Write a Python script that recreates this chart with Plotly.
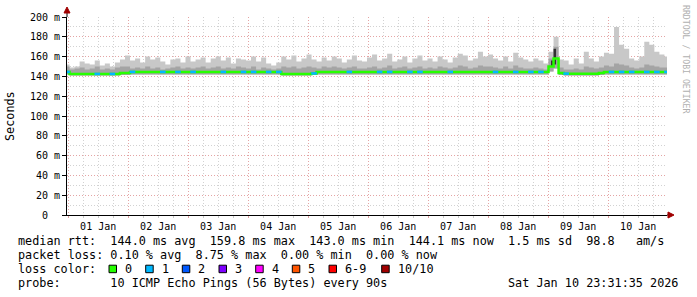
import plotly.graph_objects as go
import pandas as pd

# ---------------- data ----------------
t_start = "2025-12-31 23:32"
t_end = "2026-01-10 23:31"
n_buckets = 120

smoke_hi = [
    152, 149, 150, 155, 153, 152, 156, 151, 153, 150, 154, 157,
    161, 156, 158, 154, 160, 157, 159, 155, 152, 157, 158, 154,
    160, 155, 157, 159, 154, 158, 160, 156, 159, 153, 158, 157,
    156, 160, 155, 159, 153, 151, 154, 160, 157, 161, 155, 158,
    162, 157, 155, 159, 156, 160, 158, 154, 157, 161, 156, 155,
    159, 162, 156, 158, 163, 155, 157, 160, 154, 158, 161, 156,
    158, 155, 160, 157, 154, 159, 163, 161, 156, 158, 165, 160,
    162, 158, 156, 160, 155, 164, 159, 157, 155, 158, 156, 153,
    165, 180, 157, 156, 152, 158, 153, 165, 158, 155, 160, 164,
    163, 190, 172, 168, 158, 156, 160, 175, 172, 165, 162, 160,
]

smoke_mid = [
    150, 147, 148, 149, 147, 148, 150, 147, 148, 147, 149, 150,
    150, 148, 149, 148, 150, 148, 149, 147, 148, 149, 150, 148,
    149, 148, 149, 150, 148, 149, 150, 148, 149, 148, 150, 149,
    148, 150, 147, 149, 148, 147, 148, 150, 149, 150, 148, 149,
    150, 149, 148, 150, 149, 150, 149, 148, 149, 150, 148, 148,
    149, 150, 148, 149, 151, 148, 149, 150, 148, 149, 150, 148,
    149, 148, 150, 149, 148, 149, 151, 150, 148, 149, 151, 150,
    150, 149, 148, 150, 148, 151, 149, 148, 148, 149, 148, 147,
    158, 170, 149, 147, 147, 148, 147, 150, 149, 148, 149, 151,
    150, 153, 152, 151, 149, 148, 149, 152, 151, 150, 149, 149,
]

smoke_lo = [
    142, 141, 141, 141, 141, 141, 141, 141, 141, 141, 141, 141.5,
    141.5, 142, 142, 142, 142, 142, 142, 142, 142, 142, 142, 142,
    142, 142, 142, 142, 142, 142, 142, 142, 142, 142, 142, 142,
    142, 142, 142, 142, 142, 142, 142, 141, 141, 141, 141, 141,
    141, 141.5, 142, 142, 142, 142, 142, 142, 142, 142, 142, 142,
    142, 142, 142, 142, 142, 142, 142, 142, 142, 142, 142, 142,
    142, 142, 142, 142, 142, 142, 142, 142, 142, 142, 142, 142,
    142, 142, 142, 142, 142, 142, 142, 142, 142, 142, 142, 142,
    145, 148, 141.5, 141, 141, 141, 141, 141, 141, 141, 141.5, 142,
    142, 142, 142, 142, 142, 142, 142, 142, 142, 142, 142, 142,
]

# dark core of the smoke (only visible where latency scatters strongly)
smoke_core_lo = [None] * 96 + [150, 152] + [None] * 22
smoke_core_hi = [None] * 96 + [156, 168] + [None] * 22

median = [
    144.5, 142.5, 142.5, 142.5, 142.5, 142.5, 142.5, 142.5, 142.5, 142.5, 142.5, 143.5,
    143.5, 144.5, 144.5, 144.5, 144.5, 144.5, 144.5, 144.5, 144.5, 144.5, 144.5, 144.5,
    144.5, 144.5, 144.5, 144.5, 144.5, 144.5, 144.5, 144.5, 144.5, 144.5, 144.5, 144.5,
    144.5, 144.5, 144.5, 144.5, 144.5, 144.5, 144.5, 142.5, 142.5, 142.5, 142.5, 142.5,
    142.5, 143.0, 144.5, 144.5, 144.5, 144.5, 144.5, 144.5, 144.5, 144.5, 144.5, 144.5,
    144.5, 144.5, 144.5, 144.5, 144.5, 144.5, 144.5, 144.5, 144.5, 144.5, 144.5, 144.5,
    144.5, 144.5, 144.5, 144.5, 144.5, 144.5, 144.5, 144.5, 144.5, 144.5, 144.5, 144.5,
    144.5, 144.5, 144.5, 144.5, 144.5, 144.5, 144.5, 144.5, 144.5, 144.5, 144.5, 144.5,
    150.0, 158.0, 143.5, 142.8, 142.8, 142.8, 142.8, 142.8, 142.8, 142.8, 143.5, 144.5,
    144.5, 144.5, 144.5, 144.5, 144.5, 144.5, 144.5, 144.5, 144.5, 144.5, 144.5, 144.5,
]

# bucket indices with 1 of 10 pings lost
loss1_idx = [0, 6, 9, 13, 19, 22, 25, 31, 35, 37, 40, 42, 49, 56, 62, 64, 68, 70,
             76, 85, 89, 92, 94, 99, 108, 110, 112, 115, 117, 119]

y_tickvals = [0, 20, 40, 60, 80, 100, 120, 140, 160, 180, 200]
y_ticktext = ["0\u00a0\u00a0", "20 m", "40 m", "60 m", "80 m", "100 m", "120 m",
              "140 m", "160 m", "180 m", "200 m"]

loss_labels = ["0", "1", "2", "3", "4", "5", "6-9", "10/10"]
loss_colors = ["#26ff00", "#00b8ff", "#0059ff", "#7e00ff", "#ff00ff", "#ff5500",
               "#ff0000", "#a10000"]

line_rtt = "median rtt:  144.0 ms avg  159.8 ms max  143.0 ms min  144.1 ms now  1.5 ms sd  98.8   am/s"
line_loss = "packet loss: 0.10 % avg  8.75 % max  0.00 % min  0.00 % now"
line_probe = "probe:       10 ICMP Echo Pings (56 Bytes) every 90s"
stamp = "Sat Jan 10 23:31:35 2026"
watermark = "RRDTOOL / TOBI OETIKER"

# ---------------- figure ----------------
times = pd.date_range(t_start, t_end, periods=n_buckets)
MONO = "DejaVu Sans Mono"
FS = 11.8

fig = go.Figure()
fig.add_trace(go.Scatter(x=times, y=smoke_lo, mode="lines", line=dict(width=0, shape="hvh"),
                         hoverinfo="skip"))
fig.add_trace(go.Scatter(x=times, y=smoke_hi, mode="lines", line=dict(width=0, shape="hvh"),
                         fill="tonexty", fillcolor="#c8c8c8", hoverinfo="skip"))
fig.add_trace(go.Scatter(x=times, y=smoke_lo, mode="lines", line=dict(width=0, shape="hvh"),
                         hoverinfo="skip"))
fig.add_trace(go.Scatter(x=times, y=smoke_mid, mode="lines", line=dict(width=0, shape="hvh"),
                         fill="tonexty", fillcolor="#a4a4a4", hoverinfo="skip"))
fig.add_trace(go.Scatter(x=times, y=smoke_core_lo, mode="lines", line=dict(width=0, shape="hvh"),
                         hoverinfo="skip"))
fig.add_trace(go.Scatter(x=times, y=smoke_core_hi, mode="lines", line=dict(width=0, shape="hvh"),
                         fill="tonexty", fillcolor="#303030", hoverinfo="skip"))
fig.add_trace(go.Scatter(x=times, y=median, mode="lines",
                         line=dict(width=2.5, color="#26ff00", shape="hvh")))
fig.add_trace(go.Scatter(x=[times[i] for i in loss1_idx], y=[median[i] for i in loss1_idx],
                         mode="markers",
                         marker=dict(symbol="line-ew", size=4,
                                     line=dict(width=2.5, color=loss_colors[1]))))

L, R, T, B = 67, 30, 17, 82
W, H = 697, 297
pw, ph = W - L - R, H - T - B


def px(xp):
    return (xp - L) / pw


def py(yp):
    return (T + ph - yp) / ph


shapes = []
# axis extensions and arrows
shapes.append(dict(type="line", xref="paper", yref="paper", x0=0, x1=0, y0=1, y1=py(11),
                   line=dict(color="black", width=1)))
shapes.append(dict(type="path", xref="paper", yref="paper",
                   path=f"M {px(64)} {py(13)} L {px(70)} {py(13)} L {px(67)} {py(7)} Z",
                   fillcolor="#a00000", line=dict(color="#a00000", width=1)))
shapes.append(dict(type="line", xref="paper", yref="paper", x0=1, x1=px(670), y0=0, y1=0,
                   line=dict(color="black", width=1)))
shapes.append(dict(type="path", xref="paper", yref="paper",
                   path=f"M {px(668)} {py(212)} L {px(668)} {py(218)} L {px(674)} {py(215)} Z",
                   fillcolor="#a00000", line=dict(color="#a00000", width=1)))

annotations = []
rows_y = [241, 255, 269, 283]
for txt, yy in [(line_rtt, rows_y[0]), (line_loss, rows_y[1]), ("loss color:", rows_y[2]),
                (line_probe, rows_y[3])]:
    annotations.append(dict(text=txt.replace(" ", "\u00a0"), xref="paper", yref="paper",
                            x=px(16), y=py(yy), xanchor="left", yanchor="middle",
                            showarrow=False, font=dict(family=MONO, size=FS, color="black")))
annotations.append(dict(text=stamp.replace(" ", "\u00a0"), xref="paper", yref="paper",
                        x=px(680), y=py(rows_y[3]), xanchor="right", yanchor="middle",
                        showarrow=False, font=dict(family=MONO, size=FS, color="black")))

box_left = [109, 145.7, 182.3, 219, 255.7, 292.3, 329, 381.7]
for lab, col, bx in zip(loss_labels, loss_colors, box_left):
    shapes.append(dict(type="rect", xref="paper", yref="paper",
                       x0=px(bx), x1=px(bx + 7.5), y0=py(272.7), y1=py(265.2),
                       fillcolor=col, line=dict(color="black", width=1)))
    annotations.append(dict(text=lab, xref="paper", yref="paper", x=px(bx + 14), y=py(rows_y[2]),
                            xanchor="left", yanchor="middle", showarrow=False,
                            font=dict(family=MONO, size=FS, color="black")))

annotations.append(dict(text="Seconds", xref="paper", yref="paper", x=px(10), y=py(116),
                        xanchor="center", yanchor="middle", textangle=-90, showarrow=False,
                        font=dict(family=MONO, size=FS, color="black")))
annotations.append(dict(text=watermark.replace(" ", "\u00a0"), xref="paper", yref="paper",
                        x=px(686), y=py(59), xanchor="center", yanchor="middle", textangle=90,
                        showarrow=False, font=dict(family=MONO, size=8.2, color="#b0b0b0")))

fig.update_layout(
    width=W, height=H, autosize=False,
    margin=dict(l=L, r=R, t=T, b=B, pad=0),
    paper_bgcolor="white", plot_bgcolor="white",
    showlegend=False,
    shapes=shapes, annotations=annotations,
    xaxis=dict(
        type="date", range=["2025-12-31 23:31:35", "2026-01-10 23:31:35"],
        tick0="2026-01-01", dtick=86400000, tickformat="%d %b", ticklabelmode="period",
        showgrid=True, gridcolor="#e4a4a4", griddash="1px,2px", gridwidth=1,
        ticks="outside", ticklen=2, tickcolor="#e0a0a0",
        minor=dict(dtick=21600000, tick0="2026-01-01", showgrid=True, gridcolor="#d2d2d2",
                   griddash="1px,2px", ticks="outside", ticklen=2, tickcolor="#c8c8c8"),
        showline=True, linecolor="black", linewidth=1, zeroline=False,
        tickfont=dict(family=MONO, size=10, color="black"), fixedrange=True,
    ),
    yaxis=dict(
        range=[0, 200], tickvals=y_tickvals, ticktext=y_ticktext,
        showgrid=True, gridcolor="#e4a4a4", griddash="1px,2px", gridwidth=1,
        minor=dict(dtick=10, showgrid=True, gridcolor="#d2d2d2", griddash="1px,2px"),
        showline=True, linecolor="black", linewidth=1, zeroline=False,
        ticks="outside", ticklen=4, tickcolor="black",
        tickfont=dict(family=MONO, size=10, color="black"), fixedrange=True,
    ),
)

fig.write_html("out.html")
